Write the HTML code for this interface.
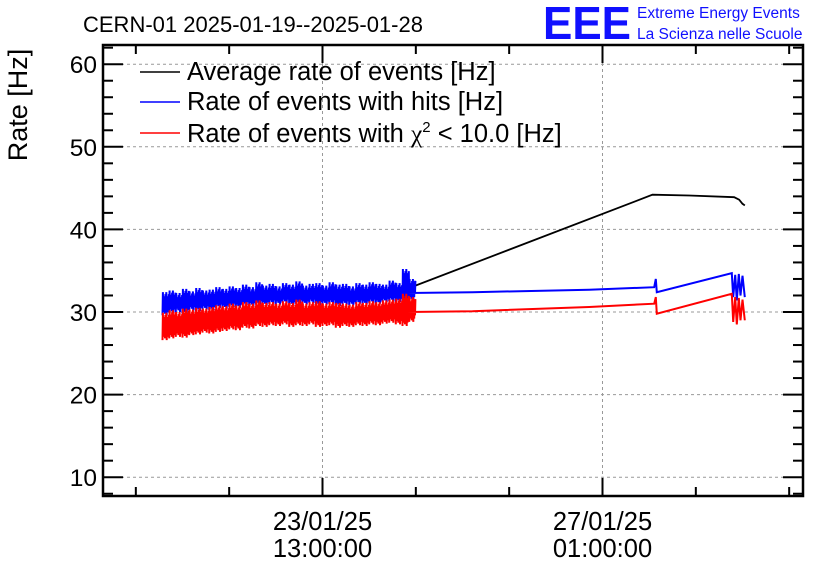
<!DOCTYPE html>
<html><head><meta charset="utf-8"><style>
body{margin:0;background:#fff}
svg{display:block;font-family:"Liberation Sans",sans-serif}
</style></head><body>
<svg id="chart" width="836" height="572">
<text x="83" y="32" font-size="22">CERN-01 2025-01-19--2025-01-28</text>
<g>
<text x="543" y="39" font-size="46" fill="#1010ff" font-weight="bold" textLength="88" lengthAdjust="spacingAndGlyphs">EEE</text>
<text x="637" y="18" font-size="15.5" fill="#1010ff">Extreme Energy Events</text>
<text x="637" y="39" font-size="15.5" fill="#1010ff">La Scienza nelle Scuole</text>
</g>
<text transform="translate(27,105) rotate(-90)" text-anchor="middle" font-size="27">Rate [Hz]</text>
<g id="grid"></g><g id="series"></g><g id="axes"></g>
<g>
<g><line x1="140" y1="72" x2="180" y2="72" stroke="#000" stroke-width="1.5"/><text x="187" y="80" font-size="25.5">Average rate of events [Hz]</text></g>
<g><line x1="140" y1="102" x2="180" y2="102" stroke="#0000ff" stroke-width="1.5"/><text x="187" y="110" font-size="25.5">Rate of events with hits [Hz]</text></g>
<g><line x1="140" y1="133" x2="180" y2="133" stroke="#ff0000" stroke-width="1.5"/><text x="187" y="142" font-size="25.5">Rate of events with <tspan font-family="Liberation Serif, serif">χ</tspan><tspan font-size="15" dy="-10">2</tspan><tspan dy="10"> &lt; 10.0 [Hz]</tspan></text></g>
</g>
</svg>
<script>
// dense section: 2-hour bins, hours relative to 23/01/25 13:00
const binStart = -48, binStep = 2;
const blueHi = [32.4,32.6,32.3,32.8,32.5,32.9,32.6,32.7,33.0,32.8,33.1,32.9,33.3,33.0,33.6,33.2,33.4,33.1,33.5,33.3,33.7,33.2,33.4,33.5,33.2,33.6,33.3,33.4,33.1,33.5,33.3,33.6,33.4,33.3,33.8,33.5,35.2,34.0];
const blueLo = [29.6,29.9,30.0,29.8,30.2,30.1,30.3,30.2,30.5,30.4,30.6,30.5,30.8,30.7,30.9,30.8,31.0,30.9,31.1,30.8,31.0,30.9,31.1,30.8,30.9,31.0,30.7,30.9,30.8,31.0,30.9,31.1,31.0,31.2,31.3,31.2,31.0,31.4];
const redHi = [29.9,30.2,30.0,30.4,30.3,30.5,30.4,30.6,30.8,30.7,31.0,30.8,31.2,31.0,31.4,31.1,31.2,31.0,31.3,31.1,31.5,31.0,31.2,31.3,31.0,31.2,31.1,31.0,30.9,31.2,31.1,31.3,31.2,31.4,31.5,31.6,32.2,31.8];
const redLo = [26.6,26.8,27.0,26.9,27.2,27.3,27.5,27.4,27.6,27.7,27.9,27.8,28.1,28.0,28.3,28.2,28.4,28.3,28.5,28.2,28.4,28.3,28.5,28.2,28.3,28.4,28.1,28.3,28.2,28.4,28.3,28.5,28.4,28.6,28.7,28.5,28.3,28.8];
// sparse section [hour, value]
const blackTail = [[26,32.9],[99,44.2],[110,44.1],[123.5,43.9],[125,43.6],[126,43.1],[126.7,42.9]];
const blueTail = [[26,32.3],[45,32.4],[80,32.7],[99.5,33.0],[100,34.0],[100.3,32.4],[122.8,34.7],[123.2,31.8],[123.8,34.5],[124.3,31.4],[124.9,34.6],[125.4,32.0],[126,34.4],[126.7,31.8]];
const redTail = [[26,30.0],[45,30.1],[80,30.6],[99.5,31.0],[100,31.8],[100.3,29.8],[122.8,32.2],[123.2,28.8],[123.8,31.8],[124.3,28.5],[124.9,31.7],[125.4,29.0],[126,31.5],[126.7,29.0]];
const yTicks = [10,20,30,40,50,60];
const xMajor = [0,84];
const xMajorLabels = [["23/01/25","13:00:00"],["27/01/25","01:00:00"]];

const L=103,R=803,T=45,B=496;
const X = h => 322.5 + h*(280/84);
const Y = v => 312 - (v-30)*8.26;
const NS="http://www.w3.org/2000/svg";
function mk(tag,attrs,parent){const e=document.createElementNS(NS,tag);for(const k in attrs)e.setAttribute(k,attrs[k]);parent.appendChild(e);return e;}
const grid=document.getElementById('grid'),axes=document.getElementById('axes'),ser=document.getElementById('series');
yTicks.forEach(v=>{
  const g=mk('line',{x1:L,x2:R,y1:Y(v),y2:Y(v),stroke:'#999','stroke-dasharray':'3,3'},grid);
  
  
  const t=mk('text',{x:L-6,y:Y(v)+9,'text-anchor':'end','font-size':'24.5'},axes);t.textContent=v;
  
  
  mk('line',{x1:L,x2:L+20,y1:Y(v),y2:Y(v),stroke:'#000','stroke-width':2},axes);
  mk('line',{x1:R-20,x2:R,y1:Y(v),y2:Y(v),stroke:'#000','stroke-width':2},axes);
  for(let m=1;m<5;m++){const vm=v-m*2;const yy=Y(vm);if(yy<B){mk('line',{x1:L,x2:L+10,y1:yy,y2:yy,stroke:'#000','stroke-width':2},axes);mk('line',{x1:R-10,x2:R,y1:yy,y2:yy,stroke:'#000','stroke-width':2},axes);}}
  if(v===60){const yy=Y(62);mk('line',{x1:L,x2:L+10,y1:yy,y2:yy,stroke:'#000','stroke-width':2},axes);mk('line',{x1:R-10,x2:R,y1:yy,y2:yy,stroke:'#000','stroke-width':2},axes);}
});
xMajor.forEach((h,i)=>{
  const g=mk('line',{x1:X(h),x2:X(h),y1:T,y2:B,stroke:'#999','stroke-dasharray':'3,3'},grid);
  
  
  const t=mk('text',{x:X(h),y:530,'text-anchor':'middle','font-size':'25.5'},axes);t.textContent=xMajorLabels[i][0];
  
  
  const t2=mk('text',{x:X(h),y:557,'text-anchor':'middle','font-size':'25.5'},axes);t2.textContent=xMajorLabels[i][1];
  
  
});
for(let h=-168;h<=196;h+=28){const x=X(h);if(x<=L||x>=R)continue;const len=(h%84===0)?18:9;
  mk('line',{x1:x,x2:x,y1:B-len,y2:B,stroke:'#000','stroke-width':2},axes);
  mk('line',{x1:x,x2:x,y1:T,y2:T+len,stroke:'#000','stroke-width':2},axes);}
const fr=mk('rect',{x:L,y:T,width:R-L,height:B-T,fill:'none',stroke:'#000','stroke-width':2.5},axes);



function band(hi,lo,color,name,tail){
  let pts=[];
  const n=8;
  hi.forEach((v,i)=>{const h=binStart+i*binStep;const x0=X(h);const w=binStep*280/84;
    for(let k=0;k<n;k++){const f=k/n;const a=(k*7%5)/5;pts.push([x0+w*f,Y(lo[i]+a*1.0)]);pts.push([x0+w*(f+0.5/n),Y(v-((k*3%4)/4)*1.0)]);}});
  tail.forEach(p=>pts.push([X(p[0]),Y(p[1])]));
  const pl=mk('polyline',{points:pts.map(p=>p[0].toFixed(1)+','+p[1].toFixed(1)).join(' '),fill:'none',stroke:color,'stroke-width':2},ser);
  
  
}
const bl=mk('polyline',{points:blueHi.map((v,i)=>X(binStart+i*binStep)+','+Y((v+blueLo[i])/2)).concat(blackTail.map(p=>X(p[0])+','+Y(p[1]))).join(' '),fill:'none',stroke:'#000','stroke-width':1.8},ser);


band(blueHi,blueLo,'#0000ff','series-hits-rate',blueTail);
band(redHi,redLo,'#ff0000','series-chi2-rate',redTail);
</script>
</body></html>
